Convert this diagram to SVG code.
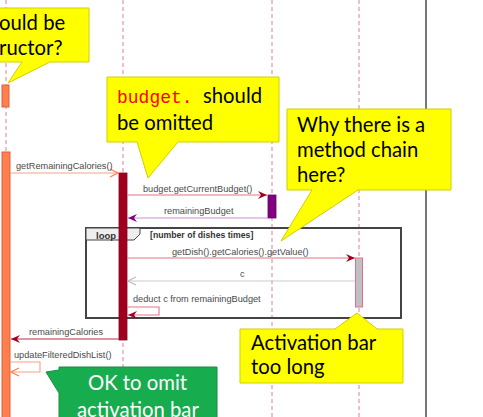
<svg xmlns="http://www.w3.org/2000/svg" width="483" height="417" viewBox="0 0 483 417">
<defs>
<style>
.life{stroke:#E8A3BC;stroke-width:1.4;stroke-dasharray:4 3;fill:none}
.lbl{font-family:"Liberation Sans",Arial,sans-serif;font-size:9.2px;fill:#4a4a4a}
.bold{font-family:"Liberation Sans",Arial,sans-serif;font-size:8.7px;font-weight:bold;fill:#333}
.note{fill:#FFFF00;stroke:#CFCF00;stroke-width:1}
.big{font-family:Lato,"Open Sans",sans-serif;font-size:20.3px;fill:#000}
.white{font-family:Lato,"Open Sans",sans-serif;font-size:20.3px;fill:#fff}
.mono{font-family:"Liberation Mono","Courier New",monospace;font-size:18px;fill:#FF0000}
</style>
<marker id="fDR" viewBox="-10 -5 11 10" refX="0" refY="0" markerWidth="11" markerHeight="10" markerUnits="userSpaceOnUse" orient="auto"><path d="M0,0 L-9,-4 L-6,0 L-9,4 Z" fill="#A00020"/></marker>
<marker id="fPU" viewBox="-10 -5 11 10" refX="0" refY="0" markerWidth="11" markerHeight="10" markerUnits="userSpaceOnUse" orient="auto"><path d="M0,0 L-9,-4 L-6,0 L-9,4 Z" fill="#800080"/></marker>
<marker id="oOR" viewBox="-10 -5 11 10" refX="0" refY="0" markerWidth="11" markerHeight="10" markerUnits="userSpaceOnUse" orient="auto"><path d="M-8,-4 L0,0 L-8,4" fill="none" stroke="#FF7F50" stroke-width="1.2"/></marker>
<marker id="oGR" viewBox="-10 -5 11 10" refX="0" refY="0" markerWidth="11" markerHeight="10" markerUnits="userSpaceOnUse" orient="auto"><path d="M-8,-4 L0,0 L-8,4" fill="none" stroke="#BBBBBB" stroke-width="1.2"/></marker>
</defs>
<rect x="0" y="0" width="483" height="417" fill="#fff"/>

<g id="lifelines">
<line class="life" x1="6" y1="0" x2="6" y2="417"/>
<line class="life" x1="123" y1="0" x2="123" y2="417"/>
<line class="life" x1="272" y1="0" x2="272" y2="417"/>
<line class="life" x1="359" y1="0" x2="359" y2="417"/>
</g>
<line x1="426" y1="0" x2="426" y2="417" stroke="#555" stroke-width="1.6"/>

<g id="loop-frame">
<rect x="86" y="228" width="315" height="90" fill="none" stroke="#444" stroke-width="2"/>
<polygon points="86,228 140,228 140,234 134,240 86,240" fill="#EEEEEE" stroke="#444" stroke-width="1"/>
<text class="bold" x="96" y="238.5" style="font-size:9.5px">loop</text>
<text class="bold" x="150" y="238">[number of dishes times]</text>
</g>

<g id="bars">
<rect id="bar-ui-small" x="2" y="85" width="7" height="22" fill="#FF7F50" stroke="#E0603A" stroke-width="1"/>
<rect id="bar-ui" x="2" y="152" width="8" height="270" fill="#FF7F50" stroke="#E0603A" stroke-width="1"/>
<rect id="bar-logic" x="119" y="173" width="8" height="167" fill="#A00020" stroke="#8A001A" stroke-width="0.8"/>
<rect id="bar-budget" x="268" y="195" width="8" height="23" fill="#800080" stroke="#6A006A" stroke-width="0.8"/>
<rect id="bar-dish" x="355.5" y="258" width="7" height="49" fill="#C0C0C0" stroke="#E07090" stroke-width="1"/>
</g>

<g id="connectors">
<line x1="10" y1="173" x2="118" y2="173" stroke="#F6A283" stroke-width="1.1" marker-end="url(#oOR)"/>
<line x1="127" y1="195" x2="267" y2="195" stroke="#E27487" stroke-width="1.1" marker-end="url(#fDR)"/>
<line x1="268" y1="218" x2="128" y2="218" stroke="#D08ED0" stroke-width="1.1" marker-end="url(#fPU)"/>
<line x1="127" y1="258" x2="355" y2="258" stroke="#E27487" stroke-width="1.1" marker-end="url(#fDR)"/>
<line x1="355" y1="281" x2="128" y2="281" stroke="#CCCCCC" stroke-width="1.1" marker-end="url(#oGR)"/>
<polyline points="127,307 159,307 159,315 128,315" fill="none" stroke="#E27487" stroke-width="1.1" marker-end="url(#fDR)"/>
<line x1="119" y1="339" x2="11" y2="339" stroke="#B8304A" stroke-width="1.1" marker-end="url(#fDR)"/>
<polyline points="10,362 40,362 40,372 11,372" fill="none" stroke="#F6A283" stroke-width="1.1" marker-end="url(#oOR)"/>
</g>

<g id="labels">
<text class="lbl" x="16" y="169">getRemainingCalories()</text>
<text class="lbl" x="143" y="192">budget.getCurrentBudget()</text>
<text class="lbl" x="164" y="214">remainingBudget</text>
<text class="lbl" x="172" y="255">getDish().getCalories().getValue()</text>
<text class="lbl" x="240" y="277">c</text>
<text class="lbl" x="133" y="302">deduct c from remainingBudget</text>
<text class="lbl" x="29" y="335">remainingCalories</text>
<text class="lbl" x="14" y="358">updateFilteredDishList()</text>
</g>

<g id="note-constructor">
<path class="note" d="M-10,8 H89 V62 H50 L8,83 L22,62 H-10 Z"/>
<text class="big" x="-1" y="30">ould be</text>
<text class="big" x="-1" y="55">ructor?</text>
</g>

<g id="note-budget">
<path class="note" d="M107,77 H279 V142 H178 L148,178 L137,142 H107 Z"/>
<text x="117" y="103"><tspan class="mono">budget.</tspan><tspan class="big" x="203">should</tspan></text>
<text class="big" x="117" y="130">be omitted</text>
</g>

<g id="note-chain">
<path class="note" d="M287,109 H451 V190 H358 L281,241 L312,190 H287 Z"/>
<text class="big" x="297" y="132">Why there is a</text>
<text class="big" x="297" y="157">method chain</text>
<text class="big" x="297" y="182">here?</text>
</g>

<g id="note-activation">
<path class="note" d="M240,329 H335 L357,313 L377,329 H403 V383 H240 Z"/>
<text class="big" x="251" y="350">Activation bar</text>
<text class="big" x="251" y="374">too long</text>
</g>

<g id="note-omit">
<path d="M59,367 H217 V425 H59 V393 L46,372 L59,370 Z" fill="#17AD4F" stroke="#139040" stroke-width="1"/>
<text class="white" x="88" y="390">OK to omit</text>
<text class="white" x="77" y="417">activation bar</text>
</g>
</svg>
